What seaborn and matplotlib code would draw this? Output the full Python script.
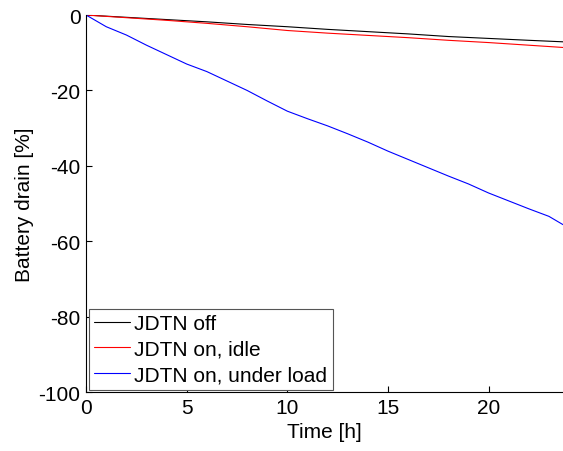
import numpy as np
import pandas as pd
import matplotlib
matplotlib.use("Agg")
import matplotlib.pyplot as plt
import seaborn as sns

# Battery drain over time for three JDTN configurations
hours_off = [0, 2, 4, 6, 8, 10, 12, 14, 16, 18, 20, 22, 23.7]
drain_off = [0, -0.6, -1.2, -1.8, -2.5, -3.1, -3.8, -4.4, -5.0, -5.7, -6.2, -6.7, -7.1]

hours_idle = [0, 2, 4, 6, 8, 10, 12, 14, 16, 18, 20, 22, 23.7]
drain_idle = [0, -0.7, -1.4, -2.2, -3.1, -4.1, -4.8, -5.4, -6.0, -6.7, -7.3, -8.0, -8.6]

hours_load = [0, 1, 2, 3, 4, 5, 6, 7, 8, 9, 10, 11, 12, 13, 14, 15, 16,
              17, 18, 19, 20, 21, 22, 23, 23.7]
drain_load = [0, -3.1, -5.3, -8.0, -10.5, -13.0, -15.0, -17.5, -20.0, -22.8,
              -25.5, -27.5, -29.4, -31.5, -33.7, -36.1, -38.3, -40.5, -42.7,
              -44.8, -47.2, -49.3, -51.4, -53.4, -55.6]

labels = ["JDTN off", "JDTN on, idle", "JDTN on, under load"]
colors = ["#000000", "#ff0000", "#0000ff"]

df = pd.concat([
    pd.DataFrame({"Time": hours_off, "Drain": drain_off, "Mode": labels[0]}),
    pd.DataFrame({"Time": hours_idle, "Drain": drain_idle, "Mode": labels[1]}),
    pd.DataFrame({"Time": hours_load, "Drain": drain_load, "Mode": labels[2]}),
], ignore_index=True)

sns.set_style("ticks")
plt.rcParams["font.family"] = ["Liberation Sans", "DejaVu Sans"]
plt.rcParams["axes.unicode_minus"] = False
plt.rcParams["text.color"] = "black"
plt.rcParams["axes.labelcolor"] = "black"

fs = 15

fig = plt.figure(figsize=(5.63, 4.52), dpi=100)
ax = fig.add_axes([0.153, 0.1305, 0.847, 0.834])

sns.lineplot(data=df, x="Time", y="Drain", hue="Mode", hue_order=labels,
             palette=dict(zip(labels, colors)), linewidth=0.8, ax=ax,
             estimator=None, sort=False)

ax.set_xlim(0, 23.7)
ax.set_ylim(-100, 0)
ax.set_xticks([0, 5, 10, 15, 20])
ax.set_yticks([-100, -80, -60, -40, -20, 0])
ax.set_xlabel("Time [h]", fontsize=fs, labelpad=4)
ax.set_ylabel("Battery drain [%]", fontsize=fs, labelpad=3)
ax.tick_params(direction="in", length=4, width=0.8, labelsize=fs, pad=4,
               colors="black")
for side in ["top", "right"]:
    ax.spines[side].set_visible(False)
for side in ["left", "bottom"]:
    ax.spines[side].set_linewidth(0.8)
    ax.spines[side].set_color("black")

handles, _ = ax.get_legend_handles_labels()
leg = ax.legend(handles, labels, loc="lower left", fontsize=fs,
                frameon=True, fancybox=False, framealpha=1,
                edgecolor="#555555", borderpad=0.25, labelspacing=0.32,
                handlelength=1.75, handletextpad=0.2,
                borderaxespad=0.12)
leg.get_frame().set_linewidth(0.8)

fig.savefig("out.png", dpi=100)
